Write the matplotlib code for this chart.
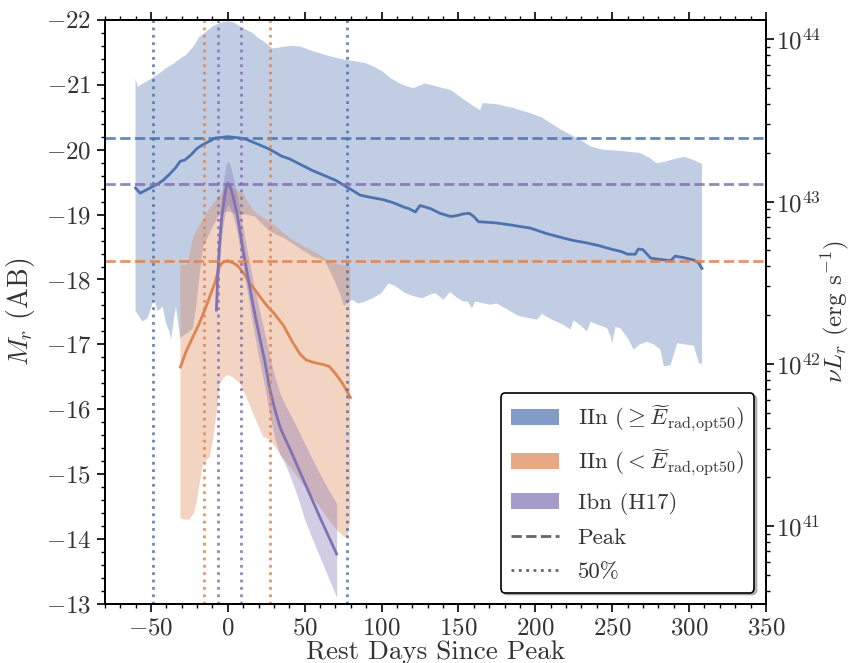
import numpy as np
import matplotlib
matplotlib.use("Agg")
import matplotlib.pyplot as plt
from matplotlib.patches import Patch
from matplotlib.lines import Line2D
from matplotlib.ticker import MultipleLocator, LogLocator

plt.rcParams['font.family'] = 'serif'
plt.rcParams['font.serif'] = ['cmr10']
plt.rcParams['mathtext.fontset'] = 'cm'
plt.rcParams['axes.formatter.use_mathtext'] = True
plt.rcParams['axes.linewidth'] = 1.4

BLUE = '#4c72b0'
ORANGE = '#dd8452'
PURPLE = '#8172b3'

# IIn (>= median E_rad) : median light curve and min/max envelope
hi_days = [-60, -57, -53, -49, -45, -42, -38, -34, -31, -28, -24, -20, -16, -12, -8, -4, 0, 4, 8, 12,
           16, 20, 25, 30, 35, 40, 45, 50, 55, 60, 65, 70, 77, 82, 86, 92, 101, 108, 114, 118, 122, 125,
           128, 132, 138, 145, 150, 153, 157, 160, 163, 170, 175, 184, 197, 207, 218, 225, 232, 240, 249,
           256, 260, 265, 267, 270, 275, 281, 288, 291, 296, 303, 306, 308.4]
hi_mag = [-19.41, -19.33, -19.38, -19.43, -19.48, -19.53, -19.62, -19.72, -19.82, -19.84, -19.92, -20.02,
          -20.08, -20.13, -20.18, -20.19, -20.2, -20.19, -20.18, -20.16, -20.12, -20.08, -20.03, -19.97,
          -19.9, -19.86, -19.8, -19.74, -19.68, -19.63, -19.58, -19.53, -19.43, -19.36, -19.3, -19.27,
          -19.23, -19.18, -19.12, -19.09, -19.04, -19.14, -19.12, -19.09, -19.02, -18.97, -18.99, -19.01,
          -19.02, -18.97, -18.89, -18.88, -18.87, -18.84, -18.79, -18.71, -18.64, -18.6, -18.57, -18.53,
          -18.47, -18.43, -18.39, -18.39, -18.47, -18.46, -18.33, -18.31, -18.29, -18.36, -18.34, -18.3,
          -18.26, -18.17]
hi_up_days = [-60, -58.5, -55, -50, -45, -40, -35, -30, -27, -22, -18.5, -14, -10, -5.5, 0, 4, 8, 12, 16,
              20, 25, 29, 35, 41, 47, 55, 62, 68, 77, 84, 90, 95, 101, 106, 112, 117, 121, 125, 128, 132,
              138, 145, 152, 158, 164, 166, 175, 186, 197, 204, 210, 216, 223, 230, 236, 244, 256, 268,
              274, 279, 285, 291, 297, 303, 308.4]
hi_up = [-21.1, -20.97, -21.02, -21.09, -21.17, -21.26, -21.33, -21.42, -21.46, -21.6, -21.74, -21.82,
         -21.9, -21.95, -21.98, -21.96, -21.9, -21.85, -21.8, -21.72, -21.64, -21.56, -21.58, -21.6,
         -21.59, -21.52, -21.47, -21.43, -21.38, -21.36, -21.33, -21.28, -21.2, -21.1, -21.02, -20.97,
         -20.95, -20.99, -21.02, -21.0, -20.96, -20.92, -20.8, -20.7, -20.61, -20.72, -20.7, -20.64,
         -20.56, -20.5, -20.41, -20.32, -20.23, -20.14, -20.05, -20.0, -19.98, -19.95, -19.88, -19.79,
         -19.82, -19.86, -19.89, -19.84, -19.78]
hi_lo_days = [-60, -58, -55.6, -52.3, -50, -48, -45.6, -42.4, -40.2, -38, -36.9, -35, -33.7, -31, -25,
              -15, 0, 20, 40, 60, 76, 80.6, 84.9, 89.3, 95, 100, 104.5, 108.8, 115.3, 120, 126.2, 131,
              134.8, 140.3, 144.6, 149, 153.3, 156, 158.7, 160.9, 165, 170.7, 175, 181, 188, 192.4, 197,
              201, 204.3, 211, 218.4, 222.8, 225, 229, 233.7, 235.8, 241, 246.7, 249, 250, 252.1, 255.4,
              260, 264, 268, 272.7, 277, 281.4, 283.6, 288, 292.3, 297, 303.1, 306.4, 308.4]
hi_lo = [-17.51, -17.45, -17.35, -17.4, -17.55, -17.71, -17.51, -17.58, -17.33, -17.2, -17.07, -17.4,
         -17.58, -17.1, -17.2, -17.4, -17.5, -17.6, -17.6, -17.65, -17.6, -17.69, -17.63, -17.66, -17.72,
         -17.79, -17.94, -17.9, -17.79, -17.75, -17.71, -17.76, -17.79, -17.69, -17.81, -17.72, -17.66,
         -17.66, -17.56, -17.66, -17.64, -17.61, -17.63, -17.55, -17.45, -17.42, -17.4, -17.38, -17.47,
         -17.38, -17.3, -17.23, -17.37, -17.3, -17.2, -17.35, -17.3, -17.25, -17.12, -17.02, -17.27,
         -17.25, -17.1, -16.92, -17.0, -17.04, -17.0, -16.92, -16.66, -16.68, -17.02, -17.0, -16.98,
         -16.71, -16.7]

# IIn (< median E_rad)
lo_days = [-30.8, -27, -23, -19, -15, -12, -8.5, -5.5, -3, 0, 3, 6, 8, 11, 14, 18, 22, 26, 30, 36, 42,
           47, 51, 56, 62, 66, 70, 74, 77, 79.7]
lo_mag = [-16.65, -16.9, -17.1, -17.3, -17.53, -17.72, -17.94, -18.2, -18.27, -18.29, -18.26, -18.22,
          -18.17, -18.07, -17.95, -17.83, -17.7, -17.58, -17.48, -17.3, -17.04, -16.85, -16.76, -16.72,
          -16.69, -16.66, -16.55, -16.42, -16.3, -16.18]
lo_up_days = [-30.8, -27, -25.9, -22.6, -18, -13.9, -10, -7.4, -5.2, -1.9, 0, 4, 9.9, 13, 16.4, 20, 25,
              31.5, 37, 42.3, 50, 57.5, 63, 68.3, 75, 79.7]
lo_up = [-18.22, -18.22, -18.25, -18.65, -18.85, -19.02, -19.15, -19.23, -19.28, -19.43, -19.45, -19.4,
         -19.33, -19.2, -19.07, -19.0, -18.92, -18.82, -18.7, -18.61, -18.5, -18.41, -18.33, -18.25,
         -18.22, -18.2]
lo_lo_days = [-30.8, -28, -24.8, -22, -20.4, -18, -16.1, -11.7, -9.6, -7, -5.2, -0.9, 3, 7.8, 11, 16.4,
              22.9, 27.4, 35, 45, 55, 65, 70.8, 75.2, 78, 79.7]
lo_lo = [-14.32, -14.3, -14.3, -14.4, -14.55, -14.9, -15.17, -15.27, -15.53, -16.0, -16.4, -16.53, -16.5,
         -16.4, -16.25, -15.94, -15.58, -15.53, -15.28, -14.97, -14.65, -14.32, -14.14, -14.04, -14.02,
         -14.3]
# inner edge of the faint-IIn envelope
lo_mid_days = [-30.8, -28, -23.6, -20.5, -18.2, -16, -12.8, -9, -6.3, -1.9, 0, 3, 7.8, 12, 17.6, 22,
               26.3, 31, 37.1, 43.6, 50, 55.7, 60, 63.2, 67, 70, 73, 76, 79.7]
lo_mid = [-16.5, -16.66, -17.07, -17.6, -18.1, -18.5, -18.66, -18.85, -18.97, -19.05, -19.05, -19.03,
          -19.0, -19.0, -18.97, -18.86, -18.76, -18.7, -18.63, -18.53, -18.43, -18.35, -18.32, -18.28,
          -18.1, -17.95, -17.78, -17.55, -17.3]

# Ibn template (Hosseinzadeh+17)
ibn_days = [-7.4, -6.5, -5.2, -4, -3, -2, -1, 0, 1, 2, 3.5, 5, 6.5, 8, 10, 12, 14, 16, 18, 20.8, 24,
            27.4, 30.6, 33.9, 37, 40, 45, 50, 55, 60, 65, 70.8]
ibn_mag = [-17.53, -18.1, -18.6, -18.95, -19.12, -19.28, -19.42, -19.48, -19.46, -19.4, -19.27, -19.12,
           -18.95, -18.73, -18.45, -18.18, -17.92, -17.66, -17.42, -17.1, -16.75, -16.3, -16.0, -15.73,
           -15.56, -15.41, -15.14, -14.87, -14.6, -14.33, -14.07, -13.77]
ibn_up = [-17.85, -18.45, -18.95, -19.3, -19.5, -19.65, -19.78, -19.82, -19.8, -19.72, -19.58, -19.42,
          -19.25, -19.05, -18.78, -18.52, -18.27, -18.03, -17.8, -17.5, -17.18, -16.8, -16.5, -16.25,
          -16.08, -15.95, -15.72, -15.47, -15.23, -15.0, -14.78, -14.55]
ibn_lo = [-17.25, -17.8, -18.3, -18.65, -18.85, -18.98, -19.1, -19.15, -19.13, -19.08, -18.97, -18.83,
          -18.67, -18.45, -18.17, -17.9, -17.62, -17.33, -17.07, -16.72, -16.35, -15.9, -15.55, -15.3,
          -15.17, -15.0, -14.68, -14.3, -14.0, -13.72, -13.43, -13.1]

# peak magnitudes and 50% (half-flux) epochs
peak_mag = {'hi': -20.18, 'lo': -18.29, 'ibn': -19.47}
half_days = {'hi': [-48.7, 77.6], 'lo': [-15.4, 27.6], 'ibn': [-6.3, 8.4]}

PC_CM = 3.0857e18
NU_R = 2.998e18 / 6231.0


def mag_to_nuL(m):
    return 4 * np.pi * (10 * PC_CM) ** 2 * NU_R * 10 ** (-0.4 * (np.asarray(m) + 48.6))


def envelope(ax, xu, yu, xl, yl, **kw):
    xs = np.concatenate([xu, np.asarray(xl)[::-1]])
    ys = np.concatenate([yu, np.asarray(yl)[::-1]])
    return ax.fill(xs, ys, lw=0, **kw)


fig = plt.figure(figsize=(8.52, 6.63), dpi=100)
ax = fig.add_axes([0.123, 0.089, 0.776, 0.881])

envelope(ax, hi_up_days, hi_up, hi_lo_days, hi_lo, color=BLUE, alpha=0.35, zorder=1)
envelope(ax, lo_mid_days, lo_mid, lo_lo_days, lo_lo, color='white', zorder=1.5)
envelope(ax, lo_up_days, lo_up, lo_lo_days, lo_lo, color=ORANGE, alpha=0.35, zorder=2)
ax.fill_between(ibn_days, ibn_lo, ibn_up, color=PURPLE, alpha=0.35, lw=0, zorder=3)

ax.plot(hi_days, hi_mag, color=BLUE, lw=2, zorder=4)
ax.plot(lo_days, lo_mag, color=ORANGE, lw=2, zorder=4)
ax.plot(ibn_days, ibn_mag, color=PURPLE, lw=2, zorder=4)

for key, col in [('hi', BLUE), ('lo', ORANGE), ('ibn', PURPLE)]:
    ax.axhline(peak_mag[key], color=col, ls='--', lw=2, alpha=0.85, zorder=5)
    for d in half_days[key]:
        ax.axvline(d, color=col, ls=':', lw=2, alpha=0.85, zorder=5)

ax.set_xlim(-80, 350)
ax.set_ylim(-13, -22)
ax.xaxis.set_major_locator(MultipleLocator(50))
ax.xaxis.set_minor_locator(MultipleLocator(10))
ax.yaxis.set_major_locator(MultipleLocator(1))
ax.yaxis.set_minor_locator(MultipleLocator(0.2))
ax.tick_params(which='both', direction='out', top=True, labeltop=False, right=False,
               labelsize=18, labelcolor='0.2')
ax.tick_params(which='major', length=6, width=1.2)
ax.tick_params(which='minor', length=3, width=1)
ax.set_xlabel('Rest Days Since Peak', fontsize=19.5, color='0.2', labelpad=0.5)
ax.set_ylabel(r'$M_r$ (AB)', fontsize=20, color='0.2', labelpad=6)

ax2 = ax.twinx()
ax2.set_yscale('log')
ax2.set_ylim(mag_to_nuL(-13), mag_to_nuL(-22))
ax2.yaxis.set_major_locator(LogLocator(base=10))
ax2.yaxis.set_minor_locator(LogLocator(base=10, subs=np.arange(2, 10)))
ax2.tick_params(which='both', direction='out', labelsize=18, labelcolor='0.2', pad=1.5)
ax2.tick_params(which='major', length=6, width=1.2)
ax2.tick_params(which='minor', length=3, width=1)
ax2.set_ylabel(r'$\nu L_r$ (erg s$^{-1}$)', fontsize=18, color='0.2', labelpad=-2)

handles = [
    Patch(facecolor=BLUE, alpha=0.7, label=r'IIn ($\geq \widetilde{E}_{\rm rad{,}opt50}$)'),
    Patch(facecolor=ORANGE, alpha=0.7, label=r'IIn ($< \widetilde{E}_{\rm rad{,}opt50}$)'),
    Patch(facecolor=PURPLE, alpha=0.7, label='Ibn (H17)'),
    Line2D([], [], color='0.4', ls='--', lw=2, label='Peak'),
    Line2D([], [], color='0.4', ls=':', lw=2, label='50%'),
]
leg = ax2.legend(handles=handles, loc='lower right', fontsize=16.5, frameon=True, fancybox=True,
                 framealpha=1, edgecolor='black',
                 shadow={'ox': 1.5, 'oy': -1.5, 'alpha': 0.35}, handlelength=2.1,
                 labelspacing=0.6, borderpad=0.45)
leg.get_frame().set_linewidth(1.2)
for t in leg.get_texts():
    t.set_color('0.2')

fig.savefig('out.png', dpi=100)
